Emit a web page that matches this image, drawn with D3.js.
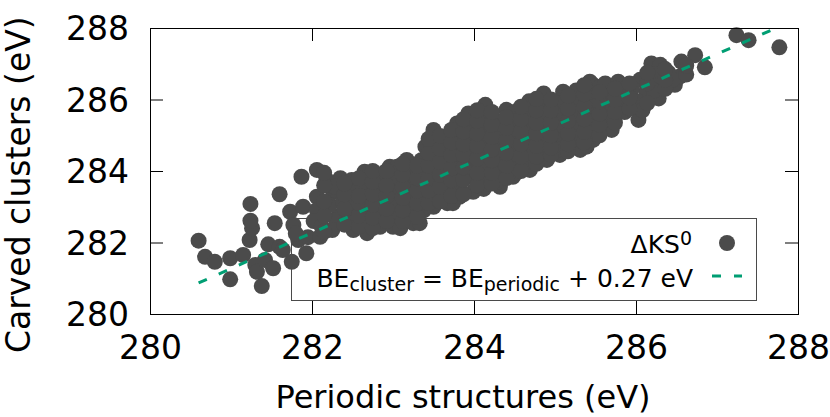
<!DOCTYPE html>
<html>
<head>
<meta charset="utf-8">
<script src="https://cdn.jsdelivr.net/npm/d3@7"></script>
<style>
  html, body { margin: 0; padding: 0; background: #fff; }
  text { font-family: "DejaVu Sans", sans-serif; }
</style>
</head>
<body>
<script>
'use strict';

// binding energies (eV), same order in both arrays
const periodic = [
  280.60, 280.68, 280.80, 280.99, 280.99, 281.38, 281.15, 281.23, 281.26, 281.24,
  281.24, 281.30, 281.32, 281.42, 281.46, 281.52, 281.54, 281.60, 281.64, 281.60,
  281.75, 281.73, 281.77, 281.83, 281.80, 281.93, 281.95, 281.89, 281.87,
  282.06, 282.18, 282.06, 282.06, 282.10, 282.02, 282.12, 282.26, 282.32, 282.35,
  282.28, 282.30, 282.22, 282.25, 282.38, 282.49, 282.47, 282.51, 282.45, 282.55,
  282.52, 282.65, 282.68, 282.62, 282.66, 282.64, 282.70,
  282.84, 282.84, 282.88, 282.80, 282.85, 282.82, 282.96, 283.05, 283.00, 283.09,
  282.98, 283.02, 283.05, 283.00, 283.17, 283.25, 283.20, 283.22, 283.18, 283.24,
  283.40, 283.33, 283.35, 283.38, 283.36, 283.40, 283.38,
  283.50, 283.50, 283.52, 283.48, 283.50, 283.52, 283.50, 283.66, 283.67, 283.64,
  283.66, 283.68, 283.65, 283.79, 283.74, 283.80, 283.78, 283.82, 283.80, 283.78,
  283.82, 283.93, 283.99, 283.95, 283.97, 283.94, 283.98, 283.95, 284.14, 284.12,
  284.15, 284.10, 284.14, 284.12, 284.16, 284.12,
  284.32, 284.40, 284.28, 284.30, 284.33, 284.30, 284.34, 284.28, 284.48, 284.50,
  284.46, 284.49, 284.47, 284.50, 284.52, 284.69, 284.68, 284.66, 284.70, 284.67,
  284.71, 284.66, 284.86, 284.90, 284.84, 284.88, 284.85, 284.87, 284.83,
  285.10, 285.06, 285.02, 285.06, 285.04, 285.08, 285.03, 285.31, 285.26, 285.28,
  285.30, 285.27, 285.30, 285.47, 285.47, 285.43, 285.39, 285.45, 285.48, 285.44,
  285.50, 285.56, 285.70, 285.62, 285.65, 285.60, 285.66, 285.84, 285.82, 285.86,
  285.78,
  286.05, 286.03, 286.13, 286.02, 286.08, 285.95, 286.19, 286.30, 286.28, 286.24,
  286.28, 286.22, 286.48, 286.54, 286.56, 286.40, 286.45, 286.73, 286.85, 287.24,
  287.39, 287.77,
  // packed core of the band
  282.15, 282.15, 282.15, 282.15, 282.15,
  282.40, 282.40, 282.40, 282.40,
  282.58, 282.58, 282.58, 282.58, 282.58,
  282.75, 282.75, 282.75, 282.75, 282.75, 282.75,
  282.92, 282.92, 282.92, 282.92, 282.92,
  283.12, 283.12, 283.12, 283.12, 283.12, 283.12,
  283.30, 283.30, 283.30, 283.30, 283.30,
  283.44, 283.44, 283.44, 283.44, 283.44, 283.44,
  283.58, 283.58, 283.58, 283.58, 283.58, 283.58,
  283.72, 283.72, 283.72, 283.72, 283.72, 283.72,
  283.87, 283.87, 283.87, 283.87, 283.87, 283.87, 283.87,
  284.04, 284.04, 284.04, 284.04, 284.04, 284.04, 284.04,
  284.22, 284.22, 284.22, 284.22, 284.22, 284.22, 284.22,
  284.40, 284.40, 284.40, 284.40, 284.40, 284.40,
  284.58, 284.58, 284.58, 284.58, 284.58, 284.58,
  284.77, 284.77, 284.77, 284.77, 284.77, 284.77, 284.77,
  284.95, 284.95, 284.95, 284.95, 284.95, 284.95,
  285.16, 285.16, 285.16, 285.16, 285.16, 285.16,
  285.36, 285.36, 285.36, 285.36, 285.36, 285.36,
  285.55, 285.55, 285.55, 285.55, 285.55,
  285.74, 285.74, 285.74, 285.74,
  285.92, 285.92, 285.92,
  286.14, 286.14, 286.14,
  286.36, 286.36, 286.36,
  286.62, 286.62
];
const carved = [
  282.05, 281.60, 281.46, 281.56, 280.97, 280.78, 281.65, 282.07, 282.40, 282.61,
  283.08, 281.37, 281.18, 281.51, 281.95, 281.28, 282.54, 281.88, 281.79, 283.35,
  281.46, 282.86, 282.49, 282.07, 282.25, 281.70, 282.15, 283.00, 283.84,
  284.03, 283.75, 283.28, 282.91, 282.16, 282.60, 282.45, 283.42, 282.72, 283.80,
  283.56, 282.63, 283.05, 282.35, 283.15, 283.75, 283.19, 282.35, 282.85, 283.45,
  282.55, 283.98, 282.26, 283.60, 283.25, 282.90, 282.58,
  283.84, 282.44, 283.93, 283.50, 283.15, 282.80, 284.12, 284.12, 282.44, 282.40,
  283.75, 283.40, 283.05, 282.75, 284.31, 282.54, 283.95, 283.60, 283.25, 282.90,
  284.68, 282.54, 284.30, 283.95, 283.60, 283.25, 282.90,
  285.15, 283.00, 284.80, 284.45, 284.10, 283.75, 283.40, 284.96, 283.10, 284.60,
  284.25, 283.90, 283.50, 285.33, 283.10, 285.00, 284.65, 284.30, 283.95, 283.60,
  283.28, 285.61, 283.42, 285.25, 284.90, 284.55, 284.20, 283.85, 285.85, 285.50,
  285.15, 284.80, 284.45, 284.10, 283.75, 283.50,
  283.56, 285.71, 285.40, 285.05, 284.70, 284.35, 284.00, 283.70, 283.84, 285.65,
  285.30, 284.95, 284.60, 284.25, 283.95, 284.03, 285.95, 285.60, 285.25, 284.90,
  284.55, 284.25, 286.17, 284.31, 285.85, 285.50, 285.15, 284.80, 284.50,
  286.22, 284.45, 285.90, 285.55, 285.20, 284.85, 284.60, 284.59, 286.25, 285.95,
  285.60, 285.25, 284.90, 286.41, 284.87, 286.50, 284.68, 286.10, 285.75, 285.40,
  285.10, 286.36, 285.15, 286.45, 286.10, 285.80, 285.45, 286.27, 285.95, 285.65,
  286.50,
  286.55, 285.43, 286.22, 285.95, 285.70, 286.30, 287.01, 286.97, 286.03, 286.70,
  286.40, 286.25, 286.41, 286.64, 287.06, 286.75, 286.55, 287.24, 286.90, 287.80,
  287.66, 287.46,
  // packed core of the band
  282.30, 282.75, 283.15, 283.60, 283.95,
  282.50, 282.95, 283.35, 283.65,
  282.45, 282.75, 283.10, 283.30, 283.80,
  282.40, 282.70, 283.05, 283.35, 283.70, 284.00,
  282.60, 282.95, 283.30, 283.60, 284.00,
  282.60, 282.90, 283.25, 283.55, 283.90, 284.20,
  282.72, 283.10, 283.45, 283.80, 284.15,
  283.10, 283.45, 283.80, 284.15, 284.50, 284.90,
  283.15, 283.55, 283.90, 284.25, 284.62, 284.98,
  283.30, 283.75, 284.08, 284.45, 284.80, 285.15,
  283.35, 283.75, 284.10, 284.45, 284.75, 285.10, 285.45,
  283.60, 283.95, 284.35, 284.70, 285.05, 285.40, 285.70,
  283.65, 283.95, 284.30, 284.60, 284.95, 285.30, 285.65,
  283.80, 284.15, 284.50, 284.85, 285.20, 285.50,
  284.00, 284.40, 284.75, 285.10, 285.45, 285.80,
  284.20, 284.40, 284.70, 285.05, 285.35, 285.70, 286.02,
  284.45, 284.65, 285.00, 285.35, 285.70, 286.00,
  284.55, 284.75, 285.05, 285.40, 285.75, 286.10,
  284.80, 285.10, 285.45, 285.80, 286.15, 286.40,
  285.00, 285.30, 285.60, 285.95, 286.20,
  285.35, 285.65, 286.00, 286.30,
  285.75, 286.05, 286.45,
  285.90, 286.45, 286.75,
  286.30, 286.55, 286.85,
  286.70, 286.95
];

const xTicks = [280, 282, 284, 286, 288];
const yTicks = [280, 282, 284, 286, 288];
const fitOffset = 0.27;
const pointLabel = "ΔKS";
const fitParts = ["BE", "cluster", " = BE", "periodic", " + 0.27 eV"];

(function () {

  let svgContainer = d3.select('body')
    .append('svg')
    .attr('width', 830)
    .attr('height', 417);

  // plot frame
  const frame = { left: 150, right: 798, top: 28, bottom: 314 };

  let xScale = d3.scaleLinear().domain([280, 288]).range([frame.left, frame.right]);
  let yScale = d3.scaleLinear().domain([280, 288]).range([frame.bottom, frame.top]);

  // clip for the fit line
  svgContainer.append('clipPath')
    .attr('id', 'plotClip')
    .append('rect')
    .attr('x', frame.left).attr('y', frame.top)
    .attr('width', frame.right - frame.left).attr('height', frame.bottom - frame.top);

  // key box goes under the points
  svgContainer.append('rect')
    .attr('x', 291.5)
    .attr('y', 218.5)
    .attr('width', 465)
    .attr('height', 82)
    .attr('fill', 'none')
    .attr('stroke', '#4a4a4a')
    .attr('stroke-width', 1);

  // scatter points
  let points = periodic.map((p, i) => ({ x: p, y: carved[i] }));
  svgContainer.selectAll('.dot')
    .data(points)
    .enter()
    .append('circle')
    .attr('class', 'dot')
    .attr('cx', (d) => xScale(d.x))
    .attr('cy', (d) => yScale(d.y))
    .attr('r', 8)
    .attr('fill', '#4b4b4b');

  // fit line over the data range
  let fitX = [d3.min(periodic), d3.max(periodic)];
  let fitLine = d3.line()
    .x((d) => xScale(d))
    .y((d) => yScale(d + fitOffset));

  svgContainer.append('path')
    .datum(fitX)
    .attr('clip-path', 'url(#plotClip)')
    .attr('fill', 'none')
    .attr('stroke', '#009e73')
    .attr('stroke-width', 3)
    .attr('stroke-dasharray', '9,13')
    .attr('d', fitLine);

  // axes, ticks pointing inward, mirrored on top and right
  function styleAxis(g) {
    g.select('.domain').remove();
    g.selectAll('.tick line').attr('stroke', '#000');
    g.selectAll('text')
      .attr('fill', '#000')
      .style('font-family', '"DejaVu Sans", sans-serif')
      .style('font-size', '33px');
  }

  svgContainer.append('g')
    .attr('transform', 'translate(0,' + frame.bottom + ')')
    .call(d3.axisBottom(xScale).tickValues(xTicks).tickSize(-13).tickPadding(21.6).tickFormat(d3.format('d')))
    .call(styleAxis);

  svgContainer.append('g')
    .attr('transform', 'translate(' + frame.left + ',0)')
    .call(d3.axisLeft(yScale).tickValues(yTicks).tickSize(-13).tickPadding(21).tickFormat(d3.format('d')))
    .call(styleAxis)
    .selectAll('text')
    .attr('dy', '0.36em');

  svgContainer.append('g')
    .attr('transform', 'translate(0,' + frame.top + ')')
    .call(d3.axisTop(xScale).tickValues(xTicks).tickSize(-13).tickFormat(''))
    .call(styleAxis);

  svgContainer.append('g')
    .attr('transform', 'translate(' + frame.right + ',0)')
    .call(d3.axisRight(yScale).tickValues(yTicks).tickSize(-13).tickFormat(''))
    .call(styleAxis);

  // frame border
  svgContainer.append('rect')
    .attr('x', frame.left + 0.5)
    .attr('y', frame.top + 0.5)
    .attr('width', frame.right - frame.left)
    .attr('height', frame.bottom - frame.top)
    .attr('fill', 'none')
    .attr('stroke', '#000')
    .attr('stroke-width', 1);

  // axis titles
  svgContainer.append('text')
    .attr('x', 463)
    .attr('y', 408)
    .attr('text-anchor', 'middle')
    .style('font-size', '32px')
    .text('Periodic structures (eV)');

  svgContainer.append('text')
    .attr('transform', 'translate(30,353)rotate(-90)')
    .attr('text-anchor', 'start')
    .style('font-size', '33px')
    .text('Carved clusters (eV)');

  // key entries
  let key1 = svgContainer.append('text')
    .attr('x', 692)
    .attr('y', 253)
    .attr('text-anchor', 'end')
    .style('font-size', '25px')
    .style('white-space', 'pre');
  key1.append('tspan').text(pointLabel);
  key1.append('tspan').attr('dy', -8).style('font-size', '19px').text('0');

  svgContainer.append('circle')
    .attr('cx', 727)
    .attr('cy', 243)
    .attr('r', 8)
    .attr('fill', '#4b4b4b');

  let key2 = svgContainer.append('text')
    .attr('x', 693)
    .attr('y', 287)
    .attr('text-anchor', 'end')
    .style('font-size', '25px')
    .style('white-space', 'pre');
  fitParts.forEach((part, i) => {
    let sub = i % 2 === 1;
    key2.append('tspan')
      .attr('dy', i === 0 ? 0 : (sub ? 4 : -4))
      .style('font-size', sub ? '19px' : '25px')
      .text(part);
  });

  svgContainer.append('line')
    .attr('x1', 712).attr('x2', 742)
    .attr('y1', 276).attr('y2', 276)
    .attr('stroke', '#009e73')
    .attr('stroke-width', 3)
    .attr('stroke-dasharray', '9,13');

})();
</script>
</body>
</html>
